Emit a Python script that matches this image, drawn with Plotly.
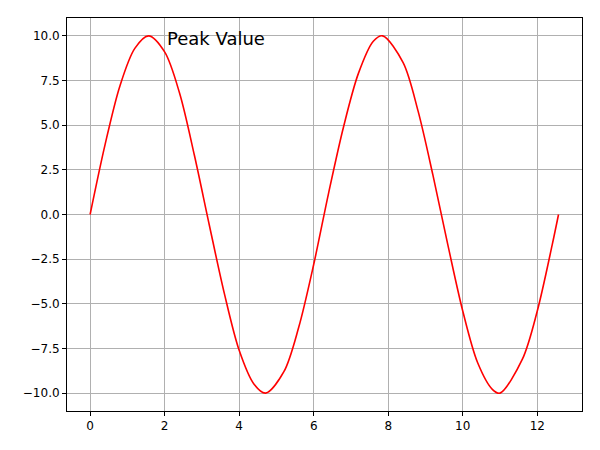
import plotly.graph_objects as go

# points
x_vals = [0, 0.4, 0.8, 1.2, 1.57, 2.0, 2.4, 2.8, 3.2, 3.6, 4.0, 4.4, 4.71, 5.2, 5.6, 6.0,
          6.4, 6.8, 7.2, 7.6, 7.85, 8.4, 8.8, 9.2, 9.6, 10.0, 10.4, 10.8, 11.0, 11.6, 12.0,
          12.4, 12.57]
y_vals = [0, 3.9, 7.2, 9.3, 10.0, 9.1, 6.8, 3.3, -0.6, -4.4, -7.6, -9.5, -10.0, -8.8, -6.3, -2.8,
          1.2, 4.9, 7.9, 9.7, 10.0, 8.5, 5.8, 2.2, -1.7, -5.4, -8.3, -9.8, -10.0, -8.1, -5.4,
          -1.7, 0]

x_ticks = [0, 2, 4, 6, 8, 10, 12]
y_ticks = [-10, -7.5, -5, -2.5, 0, 2.5, 5, 7.5, 10]
y_labels = ["−10.0", "−7.5", "−5.0", "−2.5", "0.0", "2.5", "5.0", "7.5", "10.0"]

fig = go.Figure()
fig.add_trace(go.Scatter(x=x_vals, y=y_vals, mode="lines",
                         line=dict(color="red", width=1.6, shape="spline", smoothing=0.9)))

fig.add_annotation(x=2, y=9.85, text="Peak Value", showarrow=False,
                   xanchor="left", yanchor="middle", font=dict(size=18, color="black"))

axis_style = dict(showline=True, linecolor="black", linewidth=1, mirror=True,
                  ticks="outside", ticklen=4, tickcolor="black",
                  showgrid=True, gridcolor="#b0b0b0", gridwidth=1, zeroline=False,
                  tickfont=dict(size=12, color="black"))

fig.update_xaxes(range=[-0.62, 13.2], tickvals=x_ticks, **axis_style)
fig.update_yaxes(range=[-11.0, 11.0], tickvals=y_ticks, ticktext=y_labels, **axis_style)

fig.update_layout(width=600, height=450, showlegend=False,
                  margin=dict(l=59, r=26, t=10, b=47),
                  plot_bgcolor="white", paper_bgcolor="white",
                  font=dict(family="DejaVu Sans"))

fig.write_html("out.html")
